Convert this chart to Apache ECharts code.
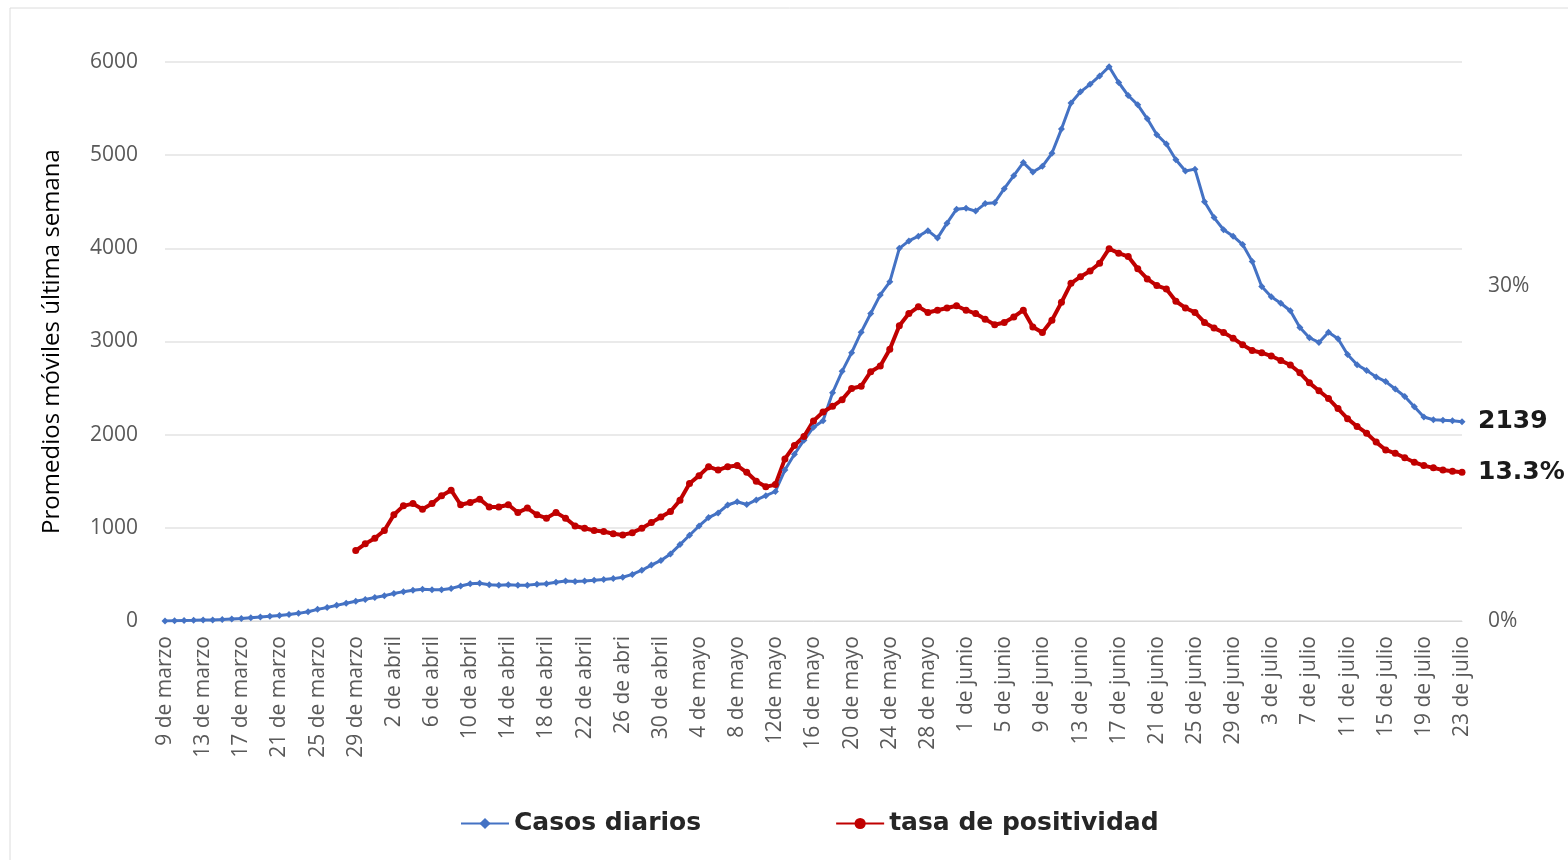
<!DOCTYPE html>
<html>
<head>
<meta charset="utf-8">
<title>Casos diarios y tasa de positividad</title>
<script src="https://cdn.jsdelivr.net/npm/echarts@6/dist/echarts.min.js"></script>
<style>
  html, body { margin: 0; padding: 0; background: #fff; }
  #chart { width: 1568px; height: 860px; }
</style>
</head>
<body>
<div id="chart"></div>
<script>
// meses del eje x: [nombre, primer dia, ultimo dia]
const meses = [['marzo', 9, 31], ['abril', 1, 30], ['mayo', 1, 31], ['junio', 1, 30], ['julio', 1, 23]]

const fechas = []
meses.forEach(([m, d0, d1]) => {
  for (let d = d0; d <= d1; d++) fechas.push(d + ' de ' + m)
})
// etiquetas tal cual aparecen en el original
fechas[48] = '26 de abri'
fechas[64] = '12de mayo'

// promedio movil de casos diarios (eje izquierdo)
const casos = [
  0, 3, 5, 7, 10, 12, 16, 22, 28, 36,
  44, 52, 60, 70, 82, 100, 125, 145, 168, 190,
  212, 232, 252, 272, 295, 315, 330, 340, 335, 335,
  350, 375, 400, 405, 390, 385, 390, 385, 385, 395,
  400, 415, 430, 425, 430, 438, 445, 455, 470, 500,
  545, 600, 650, 720, 820, 920, 1020, 1110, 1160, 1245,
  1280, 1250, 1300, 1345, 1390, 1620, 1790, 1940, 2080, 2150,
  2450, 2680, 2880, 3100, 3300, 3500, 3640, 4000, 4080, 4130,
  4190, 4110, 4270, 4420, 4430, 4400, 4480, 4490, 4640, 4780,
  4920, 4820, 4880, 5020, 5280, 5560, 5680, 5760, 5850, 5950,
  5780, 5640, 5540, 5390, 5220, 5120, 4950, 4830, 4850, 4500,
  4330, 4200, 4130, 4040, 3860, 3590, 3480, 3410, 3330, 3150,
  3040, 2990, 3100, 3030, 2860, 2750, 2690, 2620, 2570, 2490,
  2410, 2300, 2190, 2160, 2155, 2150, 2139
]

// tasa de positividad en % (eje derecho), empieza el 29 de marzo
const positividad = [
  null, null, null, null, null, null, null, null, null, null,
  null, null, null, null, null, null, null, null, null, null,
  6.3, 6.9, 7.4, 8.1, 9.5, 10.3, 10.5, 10.0, 10.5, 11.2,
  11.7, 10.4, 10.6, 10.9, 10.2, 10.2, 10.4, 9.7, 10.1, 9.5,
  9.2, 9.7, 9.2, 8.5, 8.3, 8.1, 8.0, 7.8, 7.7, 7.9,
  8.3, 8.8, 9.3, 9.8, 10.8, 12.3, 13.0, 13.8, 13.5, 13.8,
  13.9, 13.3, 12.5, 12.0, 12.2, 14.5, 15.7, 16.5, 17.9, 18.7,
  19.2, 19.8, 20.8, 21.0, 22.3, 22.8, 24.3, 26.4, 27.5, 28.1,
  27.6, 27.8, 28.0, 28.2, 27.8, 27.5, 27.0, 26.5, 26.7, 27.2,
  27.8, 26.3, 25.8, 26.9, 28.5, 30.2, 30.8, 31.3, 32.0, 33.3,
  32.9, 32.6, 31.5, 30.6, 30.0, 29.7, 28.6, 28.0, 27.6, 26.7,
  26.2, 25.8, 25.3, 24.7, 24.2, 24.0, 23.7, 23.3, 22.9, 22.2,
  21.3, 20.6, 19.9, 19.0, 18.1, 17.4, 16.8, 16.0, 15.3, 15.0,
  14.6, 14.2, 13.9, 13.7, 13.5, 13.4, 13.3
]

const etiquetasDerecha = [0, 30]

const fuente = "'Open Sans', sans-serif"
const fuenteNegrita = "'DejaVu Sans', sans-serif"

const chart = echarts.init(document.getElementById('chart'))
chart.setOption({
  animation: false,
  backgroundColor: '#ffffff',
  graphic: [{
    type: 'rect',
    shape: { x: 10, y: 8, width: 1600, height: 900 },
    style: { fill: 'none', stroke: '#dcdcdc', lineWidth: 1 },
    silent: true
  }],
  grid: {
    left: 165,
    right: 106,
    top: 62,
    bottom: 239
  },
  legend: {
    left: 455,
    top: 806,
    itemWidth: 48,
    itemHeight: 14,
    itemGap: 134,
    textStyle: {
      fontFamily: fuenteNegrita,
      fontWeight: 'bold',
      fontSize: 25,
      color: '#262626'
    },
    data: ['Casos diarios', 'tasa de positividad']
  },
  xAxis: {
    type: 'category',
    data: fechas,
    boundaryGap: false,
    axisLine: { lineStyle: { color: '#d9d9d9' } },
    axisTick: { show: false },
    axisLabel: {
      interval: 3,
      rotate: 90,
      margin: 15,
      fontFamily: fuente,
      fontSize: 21,
      color: '#595959'
    },
    splitLine: { show: false }
  },
  yAxis: [{
    type: 'value',
    min: 0,
    max: 6000,
    interval: 1000,
    name: 'Promedios móviles última semana',
    nameLocation: 'middle',
    nameRotate: 90,
    nameGap: 101,
    nameTextStyle: {
      fontFamily: fuente,
      fontSize: 24,
      color: '#000000'
    },
    axisLine: { show: false },
    axisTick: { show: false },
    axisLabel: {
      margin: 27,
      fontFamily: fuente,
      fontSize: 21,
      color: '#595959',
      formatter: v => String(v)
    },
    splitLine: { lineStyle: { color: '#e3e3e3', width: 1.5 } }
  }, {
    type: 'value',
    position: 'right',
    min: 0,
    max: 50,
    interval: 10,
    axisLine: { show: false },
    axisTick: { show: false },
    splitLine: { show: false },
    axisLabel: {
      margin: 26,
      fontFamily: fuente,
      fontSize: 21,
      color: '#595959',
      formatter: v => etiquetasDerecha.includes(v) ? v + '%' : ''
    }
  }],
  series: [{
    name: 'Casos diarios',
    type: 'line',
    yAxisIndex: 0,
    data: casos,
    color: '#4472C4',
    symbol: 'diamond',
    symbolSize: 7,
    showAllSymbol: true,
    lineStyle: { width: 3 },
    endLabel: {
      show: true,
      distance: 16,
      formatter: '{c}',
      fontFamily: fuenteNegrita,
      fontWeight: 'bold',
      fontSize: 25,
      color: '#1a1a1a'
    }
  }, {
    name: 'tasa de positividad',
    type: 'line',
    yAxisIndex: 1,
    data: positividad,
    color: '#C00000',
    symbol: 'circle',
    symbolSize: 7,
    showAllSymbol: true,
    lineStyle: { width: 4 },
    endLabel: {
      show: true,
      distance: 16,
      formatter: p => p.value + '%',
      fontFamily: fuenteNegrita,
      fontWeight: 'bold',
      fontSize: 25,
      color: '#1a1a1a'
    }
  }]
})
</script>
</body>
</html>
